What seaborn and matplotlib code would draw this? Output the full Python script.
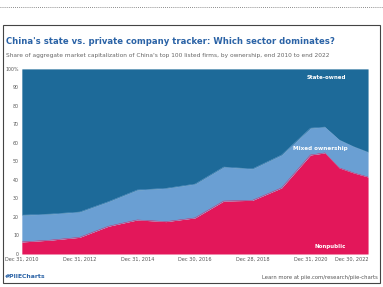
import matplotlib
matplotlib.use("Agg")
import matplotlib.pyplot as plt
import seaborn as sns
import pandas as pd

dates = ["2010-12-31", "2011-12-30", "2012-12-31", "2013-12-31", "2014-12-31",
         "2015-12-31", "2016-12-30", "2017-12-29", "2018-12-28", "2019-12-31",
         "2020-12-31", "2021-06-30", "2021-12-31", "2022-06-30", "2022-12-30"]
nonpublic = [6.5, 7.5, 9.0, 15.0, 18.4, 17.5, 19.5, 28.6, 29.0, 35.7, 53.5, 54.6, 46.5, 43.8, 41.6]
mixed = [14.5, 14.1, 13.7, 13.3, 16.2, 18.0, 18.3, 18.4, 17.0, 17.8, 14.5, 14.0, 15.1, 14.2, 13.4]
state = [100 - a - b for a, b in zip(nonpublic, mixed)]

tick_dates = ["2010-12-31", "2012-12-31", "2014-12-31", "2016-12-30",
              "2018-12-28", "2020-12-31", "2022-12-30"]
tick_labels = ["Dec 31, 2010", "Dec 31, 2012", "Dec 31, 2014", "Dec 30, 2016",
               "Dec 28, 2018", "Dec 31, 2020", "Dec 30, 2022"]
y_ticks = [0, 10, 20, 30, 40, 50, 60, 70, 80, 90, 100]
y_labels = ["0", "10", "20", "30", "40", "50", "60", "70", "80", "90", "100%"]

df = pd.DataFrame({"date": pd.to_datetime(dates), "Nonpublic": nonpublic,
                   "Mixed ownership": mixed, "State-owned": state})

sns.set_theme(style="white")
plt.rcParams['font.family'] = ['DejaVu Sans']

c_np = "#e3175a"
c_mx = "#6a9fd3"
c_st = "#1d6a99"

fig = plt.figure(figsize=(3.83, 2.87), dpi=100)
ax = fig.add_axes([0.057, 0.115, 0.904, 0.645])
ax.stackplot(df["date"], df["Nonpublic"], df["Mixed ownership"], df["State-owned"],
             colors=[c_np, c_mx, c_st], linewidth=0)
cum = df["Nonpublic"] + df["Mixed ownership"]
sns.lineplot(x=df["date"], y=cum, ax=ax, color=c_mx, linewidth=0.3)
sns.lineplot(x=df["date"], y=df["Nonpublic"], ax=ax, color=c_np, linewidth=0.3)

ax.set_xlim(df["date"].iloc[0], df["date"].iloc[-1])
ax.set_ylim(0, 100)
ax.set_xticks(pd.to_datetime(tick_dates))
ax.set_xticklabels(tick_labels, fontsize=3.6, color="#555555")
ax.get_xticklabels()[-1].set_horizontalalignment("right")
ax.set_yticks(y_ticks)
ax.set_yticklabels(y_labels, fontsize=3.4, color="#555555")
ax.tick_params(axis="both", length=0, pad=2)
ax.set_xlabel("")
ax.set_ylabel("")
for s in ax.spines.values():
    s.set_visible(False)

ax.text(pd.Timestamp("2021-07-15"), 95.5, "State-owned", color="white",
        fontsize=4.0, fontweight="bold", ha="center", va="center")
ax.text(pd.Timestamp("2021-05-01"), 57, "Mixed ownership", color="white",
        fontsize=4.1, fontweight="bold", ha="center", va="center")
ax.text(pd.Timestamp("2021-09-01"), 4, "Nonpublic", color="white",
        fontsize=4.0, fontweight="bold", ha="center", va="center")

# frame
frame = plt.Rectangle((3 / 383, 1 - 283 / 287), 377 / 383, 258 / 287,
                      transform=fig.transFigure, fill=False,
                      edgecolor="#444444", linewidth=0.8)
fig.add_artist(frame)
fig.add_artist(plt.Line2D([0, 1], [1 - 7 / 287, 1 - 7 / 287],
                          transform=fig.transFigure, color="#666666",
                          linewidth=0.6, linestyle=(0, (1, 1.5))))

fig.text(6 / 383, 1 - 42 / 287,
         "China's state vs. private company tracker: Which sector dominates?",
         fontsize=6.1, fontweight="bold", color="#2b63a6", va="center", ha="left")
fig.text(6 / 383, 1 - 55 / 287,
         "Share of aggregate market capitalization of China's top 100 listed firms, by ownership, end 2010 to end 2022",
         fontsize=4.2, color="#666666", va="center", ha="left")
fig.text(5 / 383, 1 - 277 / 287, "#PIIECharts", fontsize=4.4,
         fontweight="bold", color="#2b63a6", va="center", ha="left")
fig.text(378 / 383, 1 - 277 / 287, "Learn more at piie.com/research/piie-charts",
         fontsize=3.8, color="#555555", va="center", ha="right")

fig.savefig("out.png", dpi=100)
